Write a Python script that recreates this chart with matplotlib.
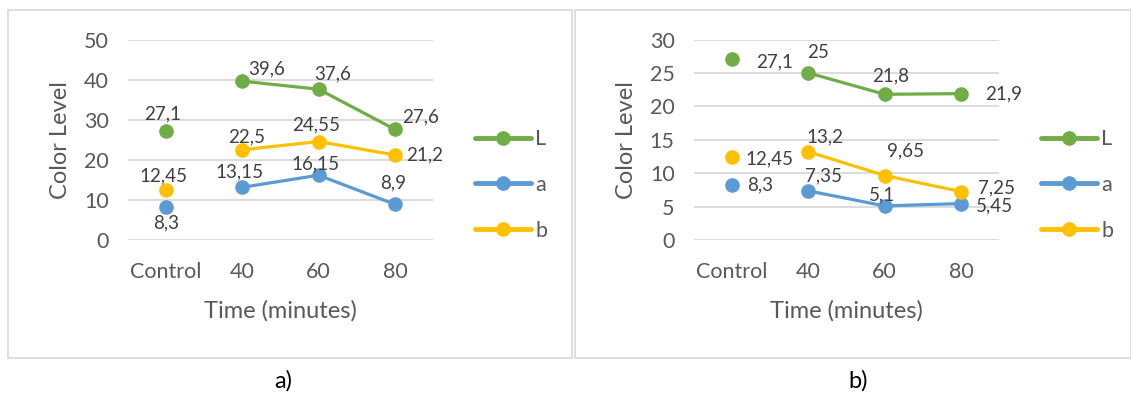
import matplotlib
matplotlib.use("Agg")
import matplotlib.pyplot as plt
from matplotlib.patches import Rectangle

plt.rcParams["font.family"] = ["Lato", "DejaVu Sans"]

categories = ["Control", "40", "60", "80"]
series_names = ["L", "a", "b"]

# panel a
a_L = [27.1, 39.6, 37.6, 27.6]
a_a = [8.3, 13.15, 16.15, 8.9]
a_b = [12.45, 22.5, 24.55, 21.2]

# panel b
b_L = [27.1, 25, 21.8, 21.9]
b_a = [8.3, 7.35, 5.1, 5.45]
b_b = [12.45, 13.2, 9.65, 7.25]

colors = {"L": "#70AD47", "a": "#5B9BD5", "b": "#FFC000"}
TXT = "#595959"
LBL = "#404040"
GRID = "#D9D9D9"

W, H = 1131, 394
fig = plt.figure(figsize=(W / 100, H / 100), dpi=100)


def fx(px):
    return px / W


def fy(py):
    return 1 - py / H


# data label offsets in pixels (dx, dy), per point
offs_a = {
    "L": [(-4, 17), (24, 12), (14, 15), (26, 12)],
    "a": [(0, -16), (-3, 15), (-3, 11), (-2, 21)],
    "b": [(-3, 14), (4, 13), (-3, 17), (30, 0)],
}
offs_b = {
    "L": [(42, -3), (10, 20), (6, 18), (43, 0)],
    "a": [(28, 0), (15, 15), (-3, 11), (34, -2)],
    "b": [(37, -2), (17, 15), (21, 25), (36, 4)],
}


def panel(left, right, data, offs, ymax, ystep, caption, cx):
    ax = fig.add_axes([fx(left), fy(240), fx(right - left), fy(39.5) - fy(240)])
    x = list(range(len(categories)))
    handles = []
    for name, vals in zip(series_names, data):
        c = colors[name]
        # control sample stands alone, the timed samples are joined
        ax.plot(x[:1], vals[:1], "o", color=c, ms=9.5, zorder=3)
        h, = ax.plot(x[1:], vals[1:], "-o", color=c, lw=2.3, ms=9.5,
                     solid_capstyle="round", zorder=3)
        handles.append(h)
        for xi, v, (dx, dy) in zip(x, vals, offs[name]):
            ax.annotate(f"{v:g}".replace(".", ","), (xi, v), xytext=(dx, dy),
                        textcoords="offset pixels", ha="center", va="center",
                        fontsize=13.5, color=LBL, zorder=4)
    ax.set_xlim(-0.5, len(categories) - 0.5)
    ax.set_ylim(0, ymax)
    ax.set_yticks(range(0, ymax + 1, ystep))
    ax.set_xticks(x)
    ax.set_xticklabels(categories)
    ax.grid(axis="y", color=GRID, lw=1.3)
    ax.set_axisbelow(True)
    for s in ax.spines.values():
        s.set_visible(False)
    ax.tick_params(length=0, labelsize=15.5, colors=TXT)
    ax.tick_params(axis="x", pad=16)
    ax.tick_params(axis="y", pad=14)
    ax.set_xlabel("Time (minutes)", fontsize=17, color=TXT, labelpad=13)
    ax.set_ylabel("Color Level", fontsize=17, color=TXT, labelpad=9)
    leg = ax.legend(handles, series_names, loc="center left", frameon=False,
                    bbox_to_anchor=(fx(right + 31), fy(185)),
                    bbox_transform=fig.transFigure,
                    borderpad=0, handlelength=2.6, handletextpad=0.2,
                    labelspacing=1.2, fontsize=15.5, labelcolor=TXT)
    for ln in leg.get_lines():
        ln.set_linewidth(3.5)
    fig.text(fx(cx), fy(381), caption, ha="center", va="center", fontsize=17, color="black")
    return ax


# panel frames
fig.add_artist(Rectangle((fx(8), fy(358)), fx(564), fy(10) - fy(358),
                         transform=fig.transFigure, fill=False, ec=GRID, lw=1.2))
fig.add_artist(Rectangle((fx(575), fy(358)), fx(556), fy(10) - fy(358),
                         transform=fig.transFigure, fill=False, ec=GRID, lw=1.2))

panel(128, 433, [a_L, a_a, a_b], offs_a, 50, 10, "a)", 283)
panel(694, 999, [b_L, b_a, b_b], offs_b, 30, 5, "b)", 858)

fig.savefig("out.png", dpi=100, facecolor="white")
